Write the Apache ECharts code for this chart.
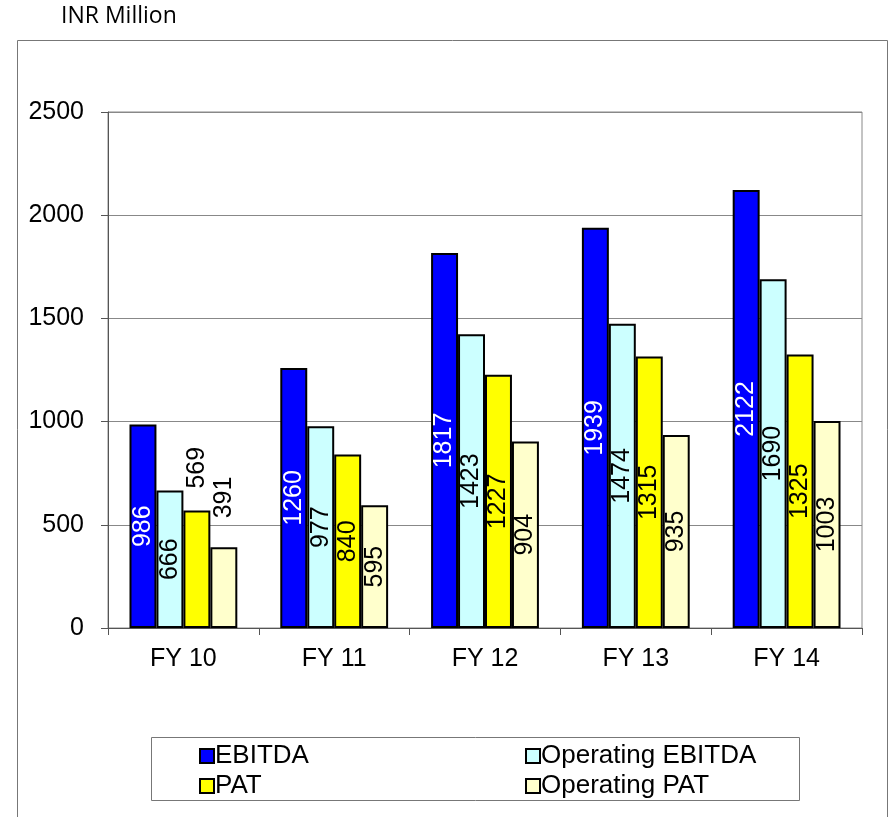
<!DOCTYPE html>
<html>
<head>
<meta charset="utf-8">
<script src="https://cdn.jsdelivr.net/npm/echarts@6/dist/echarts.min.js"></script>
<style>
  html, body { margin: 0; padding: 0; background: #fff; }
  #main { width: 894px; height: 817px; }
</style>
</head>
<body>
<div id="main"></div>
<script>
const years = ['FY 10', 'FY 11', 'FY 12', 'FY 13', 'FY 14']
const ebitda = [986, 1260, 1817, 1939, 2122]
const opEbitda = [666, 977, 1423, 1474, 1690]
const pat = [569, 840, 1227, 1315, 1325]
const opPat = [391, 595, 904, 935, 1003]

const font = 'Liberation Sans, Arial, sans-serif'

// labels sit in the middle of the bar, except a couple that Excel put above
const labelInside = (color) => ({
    show: true,
    position: 'inside',
    rotate: 90,
    color: color,
    fontFamily: font,
    fontSize: 25
})
const aboveBar = (v, dist) => ({
    value: v,
    label: { position: 'top', align: 'left', verticalAlign: 'middle', distance: dist }
})

const makeSeries = (name, data, fill, labelColor) => ({
    name,
    type: 'bar',
    data,
    barGap: '0%',
    barCategoryGap: '28.5%',
    itemStyle: { color: fill, borderColor: '#000', borderWidth: 2 },
    label: labelInside(labelColor)
})

const patData = pat.map((v, i) => i === 0 ? aboveBar(v, 22) : v)
const opPatData = opPat.map((v, i) => i === 0 ? aboveBar(v, 29) : v)

const legendText = { fontFamily: font, fontSize: 26, color: '#000', padding: [0, 0, 0, -4] }

var myChart = echarts.init(document.getElementById('main'))
var option = {
    animation: false,
    title: {
        text: 'INR Million',
        left: 61,
        top: 5,
        padding: 0,
        textStyle: { fontFamily: 'Open Sans', fontWeight: 'normal', fontSize: 23, color: '#000' }
    },
    graphic: [
        {
            type: 'rect',
            shape: { x: 17.5, y: 40.5, width: 870, height: 800 },
            style: { fill: 'none', stroke: '#777', lineWidth: 1 },
            z: -1
        },
        {
            type: 'rect',
            shape: { x: 151.5, y: 737.5, width: 648, height: 63 },
            style: { fill: 'none', stroke: '#777', lineWidth: 1 },
            z: -1
        }
    ],
    legend: [
        {
            data: ['EBITDA', 'PAT'],
            orient: 'vertical',
            left: 194,
            top: 738,
            icon: 'rect',
            itemWidth: 14,
            itemHeight: 14,
            itemGap: 4,
            textStyle: legendText
        },
        {
            data: ['Operating EBITDA', 'Operating PAT'],
            orient: 'vertical',
            left: 520,
            top: 738,
            icon: 'rect',
            itemWidth: 14,
            itemHeight: 14,
            itemGap: 4,
            textStyle: legendText
        }
    ],
    grid: {
        left: 108,
        right: 32,
        top: 112,
        bottom: 189,
        show: true,
        borderColor: '#888',
        borderWidth: 1
    },
    xAxis: {
        type: 'category',
        data: years,
        axisLine: { lineStyle: { color: '#555', width: 1 } },
        axisTick: { show: true, length: 7, lineStyle: { color: '#555' } },
        axisLabel: { color: '#000', fontFamily: font, fontSize: 25, margin: 19 }
    },
    yAxis: {
        type: 'value',
        min: 0,
        max: 2500,
        interval: 500,
        axisLine: { show: true, lineStyle: { color: '#555', width: 1 } },
        axisTick: { show: true, length: 7, lineStyle: { color: '#555' } },
        axisLabel: { color: '#000', fontFamily: font, fontSize: 25, margin: 24, formatter: (v) => String(v) },
        splitLine: { lineStyle: { color: '#888', width: 1 } }
    },
    series: [
        makeSeries('EBITDA', ebitda, '#0000FF', '#fff'),
        makeSeries('Operating EBITDA', opEbitda, '#CCFFFF', '#000'),
        makeSeries('PAT', patData, '#FFFF00', '#000'),
        makeSeries('Operating PAT', opPatData, '#FFFFCC', '#000')
    ]
}
myChart.setOption(option)
</script>
</body>
</html>
